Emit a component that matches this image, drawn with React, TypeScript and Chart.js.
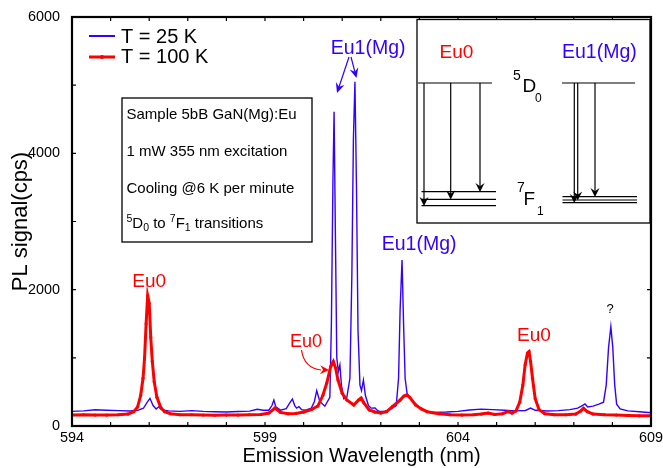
import React, { useEffect, useRef } from 'react';
import { Chart, registerables } from 'chart.js';
Chart.register(...registerables);

// ---- Data ----
const seriesLabels = ['T = 25 K', 'T = 100 K'];

const wavelength25 = [
  594.0, 594.3, 594.6, 594.9, 595.2, 595.5, 595.7, 595.85, 595.95, 596.02, 596.1, 596.18, 596.25, 596.32, 596.5,
  596.8, 597.1, 597.4, 597.7, 598.0, 598.3, 598.6, 598.8, 598.95, 599.1, 599.18, 599.23, 599.28, 599.4, 599.55,
  599.65, 599.71, 599.77, 599.82, 599.88, 599.95, 600.05, 600.2, 600.28, 600.34, 600.42, 600.55, 600.68, 600.72,
  600.76, 600.79, 600.82, 600.86, 600.9, 600.94, 600.98, 601.04, 601.12, 601.2, 601.25, 601.29, 601.33, 601.37,
  601.41, 601.46, 601.5, 601.55, 601.6, 601.68, 601.75, 601.85, 601.92, 602.0, 602.1, 602.25, 602.4, 602.46,
  602.5, 602.55, 602.59, 602.63, 602.68, 602.75, 602.85, 602.95, 603.05, 603.2, 603.4, 603.7, 604.0, 604.3,
  604.6, 604.9, 605.2, 605.5, 605.75, 605.88, 606.0, 606.3, 606.6, 606.9, 607.1, 607.22, 607.29, 607.36, 607.5,
  607.65, 607.77, 607.84, 607.9, 607.96, 608.01, 608.06, 608.11, 608.2, 608.4, 608.7, 609.0,
];
const signal25 = [
  215, 222, 238, 232, 225, 220, 230, 260, 350, 406, 300, 250, 283, 240, 222,
  215, 225, 215, 210, 205, 212, 218, 245, 232, 232, 300, 381, 280, 232, 255,
  345, 396, 300, 262, 283, 240, 232, 262, 360, 518, 360, 290, 420, 1500,
  3600, 4610, 3000, 1000, 800, 895, 600, 400, 420, 700, 2200, 4200, 5050, 3500,
  1400, 600, 520, 675, 450, 300, 262, 264, 225, 212, 215, 245, 300, 700,
  1700, 2435, 1500, 700, 480, 420, 350, 300, 255, 215, 200, 205, 215, 235,
  248, 240, 232, 222, 228, 264, 230, 220, 225, 240, 262, 300, 323, 280, 292,
  320, 350, 600, 1150, 1457, 1150, 600, 320, 250, 222, 208, 195,
];

const wavelength100 = [
  594.0, 594.3, 594.6, 594.9, 595.2, 595.45, 595.6, 595.7, 595.78, 595.84, 595.88, 595.92, 595.96, 596.0, 596.04,
  596.08, 596.13, 596.2, 596.3, 596.4, 596.55, 596.8, 597.1, 597.4, 597.7, 598.0, 598.3, 598.6, 598.9, 599.1,
  599.26, 599.4, 599.6, 599.8, 600.0, 600.2, 600.37, 600.5, 600.6, 600.7, 600.77, 600.83, 600.89, 601.0, 601.12,
  601.3, 601.42, 601.49, 601.56, 601.7, 601.85, 602.0, 602.15, 602.3, 602.5, 602.6, 602.67, 602.75, 602.9, 603.05,
  603.2, 603.5, 603.8, 604.1, 604.4, 604.6, 604.78, 604.95, 605.15, 605.3, 605.4, 605.5, 605.6, 605.68, 605.74,
  605.8, 605.84, 605.88, 605.93, 606.0, 606.1, 606.25, 606.5, 606.8, 607.05, 607.18, 607.25, 607.35, 607.5, 607.8,
  608.1, 608.4, 608.7, 609.0,
];
const signal100 = [
  160, 165, 160, 160, 165, 175, 210, 280, 450, 700, 1000, 1500, 1911, 1800, 1300,
  950, 650, 420, 270, 210, 180, 165, 165, 160, 158, 160, 160, 165, 170, 190,
  264, 200, 180, 185, 205, 240, 293, 450, 630, 870, 945, 850, 675, 480, 381,
  308, 380, 410, 340, 235, 205, 190, 210, 283, 380, 440, 455, 420, 308, 250,
  210, 180, 165, 160, 165, 175, 190, 170, 180, 210, 190, 220, 350, 600, 900,
  1070, 1090, 950, 700, 400, 240, 180, 165, 165, 175, 220, 260, 210, 175, 165,
  160, 155, 150, 150,
];

const xTickLabels = [594, 599, 604, 609];
const yTickLabels = [0, 2000, 4000, 6000];
const xMinorTicks = [594, 595, 596, 597, 598, 599, 600, 601, 602, 603, 604, 605, 606, 607, 608, 609];
const yMinorTicks = [0, 1000, 2000, 3000, 4000, 5000, 6000];

const BLUE = '#3300ff';
const RED = '#ff0000';
const FONT = '"Liberation Sans", Arial, Helvetica, sans-serif';

function headAt(ctx: CanvasRenderingContext2D, x2: number, y2: number, a: number, len: number, half: number, notch: number) {
  const bx = x2 - Math.cos(a) * len;
  const by = y2 - Math.sin(a) * len;
  const nx = -Math.sin(a);
  const ny = Math.cos(a);
  const mx = x2 - Math.cos(a) * len * (1 - notch);
  const my = y2 - Math.sin(a) * len * (1 - notch);
  ctx.beginPath();
  ctx.moveTo(x2, y2);
  ctx.lineTo(bx + nx * half, by + ny * half);
  ctx.lineTo(mx, my);
  ctx.lineTo(bx - nx * half, by - ny * half);
  ctx.closePath();
  ctx.fill();
}

function arrow(ctx: CanvasRenderingContext2D, x1: number, y1: number, x2: number, y2: number, color: string, len = 9, half = 4.5, notch = 0.35) {
  const a = Math.atan2(y2 - y1, x2 - x1);
  ctx.save();
  ctx.strokeStyle = color;
  ctx.fillStyle = color;
  ctx.lineWidth = 1.2;
  ctx.beginPath();
  ctx.moveTo(x1, y1);
  ctx.lineTo(x2 - Math.cos(a) * len * 0.6, y2 - Math.sin(a) * len * 0.6);
  ctx.stroke();
  headAt(ctx, x2, y2, a, len, half, notch);
  ctx.restore();
}

const decorPlugin = {
  id: 'decor',
  afterDatasetsDraw(chart: any) {
    const ctx: CanvasRenderingContext2D = chart.ctx;
    const { left, right, top, bottom } = chart.chartArea;
    const xs = chart.scales.x;
    const ys = chart.scales.y;
    ctx.save();

    // inward ticks on all four sides
    ctx.strokeStyle = '#000';
    ctx.lineWidth = 1.2;
    ctx.beginPath();
    xMinorTicks.forEach((v) => {
      const px = xs.getPixelForValue(v);
      ctx.moveTo(px, bottom);
      ctx.lineTo(px, bottom - 4);
      ctx.moveTo(px, top);
      ctx.lineTo(px, top + 4);
    });
    yMinorTicks.forEach((v) => {
      const py = ys.getPixelForValue(v);
      ctx.moveTo(left, py);
      ctx.lineTo(left + 4, py);
      ctx.moveTo(right, py);
      ctx.lineTo(right - 4, py);
    });
    ctx.stroke();

    // text box
    ctx.fillStyle = '#fff';
    ctx.fillRect(122, 98, 190, 144);
    ctx.lineWidth = 1.3;
    ctx.strokeStyle = '#000';
    ctx.strokeRect(122, 98, 190, 144);
    ctx.fillStyle = '#000';
    ctx.textBaseline = 'alphabetic';
    ctx.textAlign = 'left';
    ctx.font = `15px ${FONT}`;
    ctx.fillText('Sample 5bB GaN(Mg):Eu', 126.5, 119);
    ctx.fillText('1 mW 355 nm excitation', 126.5, 156);
    ctx.fillText('Cooling @6 K per minute', 126.5, 193);
    let cx = 126.5;
    const by = 228;
    const part = (t: string, size: number, dy: number) => {
      ctx.font = `${size}px ${FONT}`;
      ctx.fillText(t, cx, by + dy);
      cx += ctx.measureText(t).width;
    };
    part('5', 10.5, -6);
    part('D', 15, 0);
    part('0', 10.5, 3);
    part(' to ', 15, 0);
    part('7', 10.5, -6);
    part('F', 15, 0);
    part('1', 10.5, 3);
    part(' transitions', 15, 0);

    // inset energy-level box
    ctx.fillStyle = '#fff';
    ctx.fillRect(417, 19.5, 233, 203.5);
    ctx.strokeStyle = '#000';
    ctx.lineWidth = 1.3;
    ctx.strokeRect(417, 19.5, 233, 203.5);
    ctx.font = `19px ${FONT}`;
    ctx.fillStyle = RED;
    ctx.fillText('Eu0', 439.5, 58);
    ctx.fillStyle = BLUE;
    ctx.font = `19.5px ${FONT}`;
    ctx.fillText('Eu1(Mg)', 562, 58);
    ctx.fillStyle = '#000';
    ctx.font = `14px ${FONT}`;
    ctx.fillText('5', 513, 80);
    ctx.font = `19px ${FONT}`;
    ctx.fillText('D', 522.5, 91.7);
    ctx.font = `12px ${FONT}`;
    ctx.fillText('0', 535, 101.7);
    ctx.font = `14px ${FONT}`;
    ctx.fillText('7', 517, 191.7);
    ctx.font = `19px ${FONT}`;
    ctx.fillText('F', 523.5, 205);
    ctx.font = `12px ${FONT}`;
    ctx.fillText('1', 537, 215);

    ctx.lineWidth = 1.2;
    ctx.beginPath();
    ctx.moveTo(418, 83); ctx.lineTo(492, 83);
    ctx.moveTo(562, 83); ctx.lineTo(635, 83);
    ctx.moveTo(421.5, 191.7); ctx.lineTo(496, 191.7);
    ctx.moveTo(421.5, 199.3); ctx.lineTo(496, 199.3);
    ctx.moveTo(421.5, 205.7); ctx.lineTo(496, 205.7);
    ctx.moveTo(562.5, 196.7); ctx.lineTo(637, 196.7);
    ctx.moveTo(562.5, 200); ctx.lineTo(637, 200);
    ctx.moveTo(562.5, 202.7); ctx.lineTo(637, 202.7);
    ctx.stroke();
    arrow(ctx, 424, 83, 424, 206, '#000', 9, 4.5);
    arrow(ctx, 450.7, 83, 450.7, 199.5, '#000', 9, 4.5);
    arrow(ctx, 480, 83, 480, 192, '#000', 9, 4.5);
    arrow(ctx, 574.3, 83, 574.3, 203, '#000', 9, 4.5);
    arrow(ctx, 577.7, 83, 577.7, 200.5, '#000', 9, 4.5);
    arrow(ctx, 595, 83, 595, 197, '#000', 9, 4.5);

    // legend
    ctx.lineWidth = 2;
    ctx.strokeStyle = BLUE;
    ctx.beginPath(); ctx.moveTo(89, 36); ctx.lineTo(115, 36); ctx.stroke();
    ctx.lineWidth = 3;
    ctx.strokeStyle = RED;
    ctx.beginPath(); ctx.moveTo(89, 57); ctx.lineTo(115, 57); ctx.stroke();
    ctx.fillStyle = RED;
    ctx.beginPath(); ctx.arc(102, 57, 2, 0, Math.PI * 2); ctx.fill();
    ctx.fillStyle = '#000';
    ctx.font = `20px ${FONT}`;
    ctx.fillText(seriesLabels[0], 121, 42.7);
    ctx.fillText(seriesLabels[1], 121, 62.7);

    // peak annotations
    ctx.font = `19px ${FONT}`;
    ctx.fillStyle = RED;
    ctx.fillText('Eu0', 132.3, 286.7);
    ctx.font = `18px ${FONT}`;
    ctx.fillText('Eu0', 290, 346.7);
    ctx.font = `19px ${FONT}`;
    ctx.fillText('Eu0', 517, 341);
    ctx.fillStyle = BLUE;
    ctx.font = `19.5px ${FONT}`;
    ctx.fillText('Eu1(Mg)', 330.7, 54);
    ctx.fillText('Eu1(Mg)', 381.7, 250);
    ctx.fillStyle = '#000';
    ctx.font = `13px ${FONT}`;
    ctx.textAlign = 'center';
    ctx.fillText('?', 610, 313.3);
    ctx.textAlign = 'left';

    arrow(ctx, 349, 57, 337, 93, BLUE, 10, 4.5);
    arrow(ctx, 351, 57, 356.5, 78, BLUE, 10, 4.5);
    ctx.strokeStyle = RED;
    ctx.fillStyle = RED;
    ctx.lineWidth = 1.2;
    ctx.beginPath();
    ctx.moveTo(301.5, 350);
    ctx.quadraticCurveTo(304, 368, 321, 370);
    ctx.stroke();
    headAt(ctx, 329, 370, Math.atan2(370 - 369.5, 329 - 316), 9, 4.5, 0.35);

    // frame
    ctx.strokeStyle = '#000';
    ctx.lineWidth = 2.2;
    ctx.strokeRect(left, top, right - left, bottom - top);
    ctx.restore();
  },
};

export default function App() {
  const ref = useRef<HTMLCanvasElement | null>(null);
  useEffect(() => {
    if (!ref.current) return;
    const chart = new Chart(ref.current, {
      type: 'line',
      data: {
        datasets: [
          {
            label: seriesLabels[0],
            data: wavelength25.map((x, i) => ({ x, y: signal25[i] })),
            borderColor: BLUE,
            borderWidth: 1.4,
            pointRadius: 0,
            tension: 0,
            order: 1,
          },
          {
            label: seriesLabels[1],
            data: wavelength100.map((x, i) => ({ x, y: signal100[i] })),
            borderColor: RED,
            backgroundColor: RED,
            borderWidth: 3,
            pointRadius: 1.6,
            pointBorderWidth: 0,
            pointBackgroundColor: RED,
            tension: 0,
            order: 0,
          },
        ],
      },
      options: {
        animation: false,
        responsive: false,
        devicePixelRatio: 1,
        layout: { padding: { top: 17, right: 12, left: 0, bottom: 0 } },
        plugins: { legend: { display: false }, tooltip: { enabled: false } },
        scales: {
          x: {
            type: 'linear',
            min: 594,
            max: 609,
            grid: { display: false },
            border: { display: false },
            ticks: {
              color: '#000', font: { family: FONT, size: 14.4 }, padding: -5, maxRotation: 0, autoSkip: false,
              callback: (v: any) => String(v),
            },
            afterBuildTicks: (s: any) => { s.ticks = xTickLabels.map((v) => ({ value: v })); },
            afterFit: (s: any) => { s.height = 42; },
            title: { display: true, text: 'Emission Wavelength (nm)', color: '#000', font: { family: FONT, size: 20 }, padding: { top: 0, bottom: 0 } },
          },
          y: {
            type: 'linear',
            min: 0,
            max: 6000,
            grid: { display: false },
            border: { display: false },
            ticks: { color: '#000', font: { family: FONT, size: 14.4 }, padding: 4, callback: (v: any) => String(v) },
            afterBuildTicks: (s: any) => { s.ticks = yTickLabels.map((v) => ({ value: v })); },
            afterFit: (s: any) => { s.width = 72; },
            title: { display: true, text: 'PL signal(cps)', color: '#000', font: { family: FONT, size: 22 }, padding: { top: 8, bottom: 0 } },
          },
        },
      },
      plugins: [decorPlugin],
    });
    return () => chart.destroy();
  }, []);
  return (
    <div style={{ position: 'absolute', left: 0, top: 0, width: 663, height: 468, background: '#fff' }}>
      <canvas ref={ref} width={663} height={468} />
    </div>
  );
}
